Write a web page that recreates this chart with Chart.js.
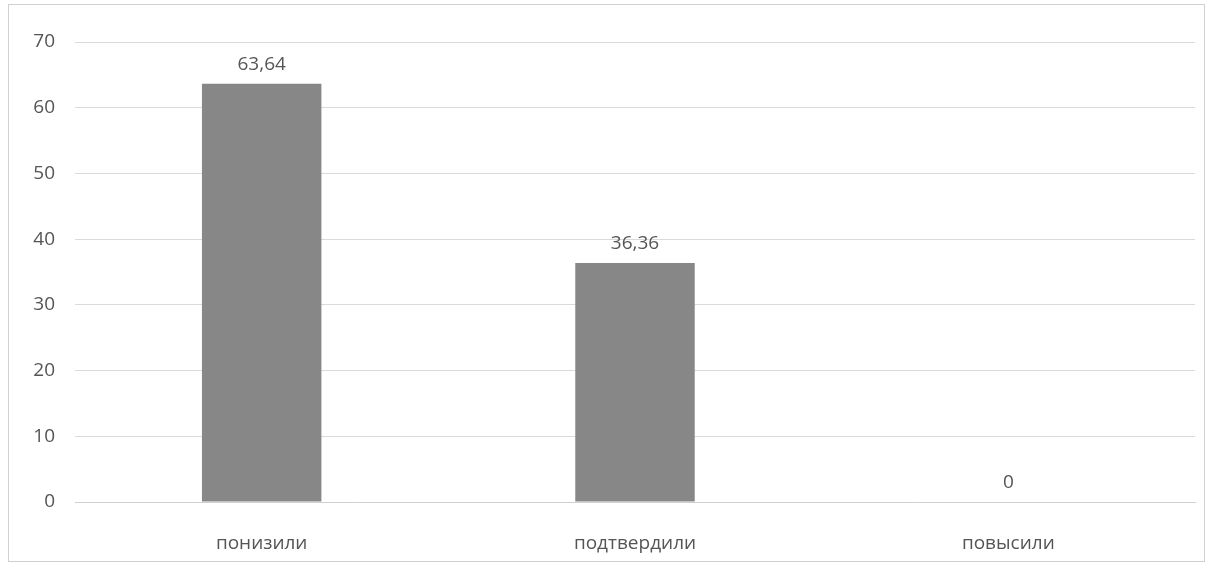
<!DOCTYPE html>
<html>
<head>
<meta charset="utf-8">
<script src="https://cdn.jsdelivr.net/npm/chart.js@4/dist/chart.umd.min.js"></script>
<style>
  html, body { margin: 0; padding: 0; background: #fff; }
  #wrap { width: 1209px; height: 571px; position: relative; }
</style>
</head>
<body>
<div id="wrap"><canvas id="chart_bars" width="1209" height="571"></canvas></div>
<script>
// categories and values
var categories = ['понизили', 'подтвердили', 'повысили'];
var values = [63.64, 36.36, 0];
var yTicks = [0, 10, 20, 30, 40, 50, 60, 70];

var textColor = '#555555';
var fontFamily = '"Open Sans", sans-serif';

// writes the value above every bar, with a decimal comma
var barLabels = {
    id: 'barLabels',
    afterDatasetsDraw: function(chart) {
        var ctx = chart.ctx;
        var meta = chart.getDatasetMeta(0);
        ctx.save();
        ctx.fillStyle = textColor;
        ctx.font = '19px ' + fontFamily;
        ctx.textAlign = 'center';
        ctx.textBaseline = 'alphabetic';
        meta.data.forEach(function(bar, i) {
            var txt = String(values[i]).replace('.', ',');
            ctx.fillText(txt, bar.x, bar.y - 14);
        });
        ctx.restore();
    }
};

// thin frame round the whole chart
var frame = {
    id: 'frame',
    beforeDraw: function(chart) {
        var ctx = chart.ctx;
        ctx.save();
        ctx.strokeStyle = '#d0d0d0';
        ctx.lineWidth = 1;
        ctx.strokeRect(8.5, 4.5, 1196, 557);
        ctx.restore();
    }
};

var ctxBars = document.getElementById('chart_bars').getContext('2d');
var chartBars = new Chart(ctxBars, {
    type: 'bar',
    data: {
        labels: categories,
        datasets: [{
            data: values,
            backgroundColor: '#878787',
            borderWidth: 0,
            barPercentage: 0.32,
            categoryPercentage: 1
        }]
    },
    plugins: [frame, barLabels],
    options: {
        responsive: false,
        animation: false,
        layout: { padding: { top: 42, right: 14, bottom: 0, left: 0 } },
        plugins: {
            legend: { display: false },
            tooltip: { enabled: false }
        },
        scales: {
            x: {
                grid: { display: false },
                border: { display: true, color: '#d0d0d0' },
                ticks: { color: textColor, font: { family: fontFamily, size: 19 }, padding: 22 },
                afterFit: function(axis) { axis.height = 69; }
            },
            y: {
                min: 0,
                max: 70,
                afterBuildTicks: function(axis) {
                    axis.ticks = yTicks.map(function(v) { return { value: v }; });
                },
                grid: { color: '#dadada', drawTicks: false },
                border: { display: false },
                ticks: { color: textColor, font: { family: fontFamily, size: 19 }, padding: 20 },
                afterFit: function(axis) { axis.width = 75; }
            }
        }
    }
});
</script>
</body>
</html>
